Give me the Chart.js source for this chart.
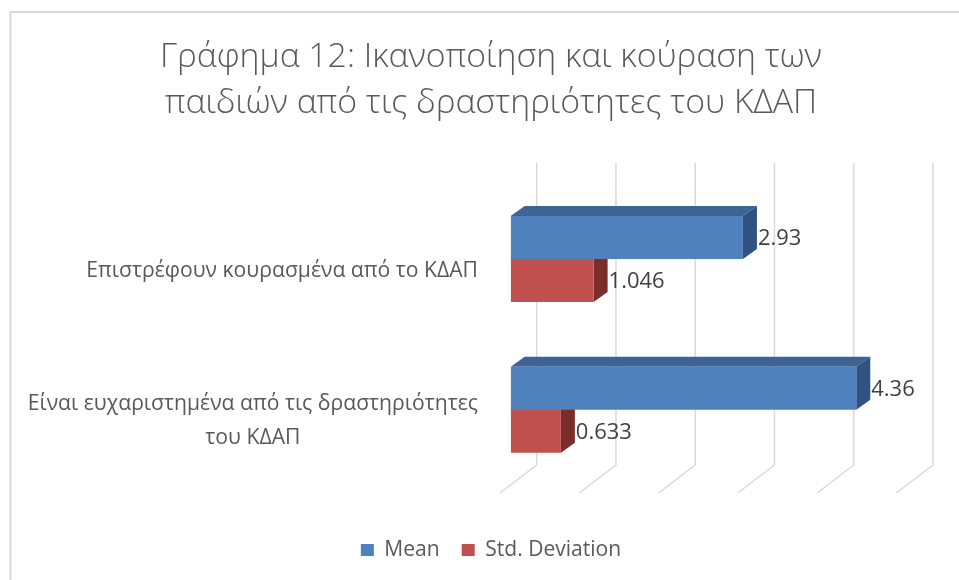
<!DOCTYPE html>
<html>
<head>
<meta charset="utf-8">
<script src="https://cdn.jsdelivr.net/npm/chart.js@4.4.0/dist/chart.umd.min.js"></script>
<style>
html,body{margin:0;padding:0;background:#fff;}
#wrap{width:959px;height:580px;position:relative;}
</style>
</head>
<body>
<div id="wrap"><canvas id="c" width="959" height="580"></canvas></div>
<script>
// ---- data ----
const titleLines = ['Γράφημα 12: Ικανοποίηση και κούραση των', 'παιδιών από τις δραστηριότητες του ΚΔΑΠ'];
const categories = [
  ['Επιστρέφουν κουρασμένα από το ΚΔΑΠ'],
  ['Είναι ευχαριστημένα από τις δραστηριότητες', 'του ΚΔΑΠ']
];
const seriesNames = ['Mean', 'Std. Deviation'];
const meanValues = [2.93, 4.36];
const stdValues = [1.046, 0.633];
const axisTicks = [0, 1, 2, 3, 4, 5];

// ---- styles ----
const FAM = '"Open Sans", "Noto Sans", "DejaVu Sans", sans-serif';
function fitSize(text, targetW, weight) {
  const c = document.createElement('canvas').getContext('2d');
  c.font = (weight || 'normal') + ' 100px ' + FAM;
  return 100 * targetW / c.measureText(text).width;
}
const TITLE_WEIGHT = '300';
const titleSize = fitSize(titleLines[0], 662, TITLE_WEIGHT);
const catSize = fitSize(categories[0][0], 392);
const valSize = fitSize('1.046', 56);
const legSize = fitSize(seriesNames[1], 136);

const COLORS = {
  mean: {front: '#4f81bd', top: '#3c6494', side: '#2f5280'},
  std:  {front: '#c0504d', top: '#8f3a37', side: '#7a2d2b'}
};
const faceColors = [COLORS.mean, COLORS.std];
const DEPTH = {dx: 14, dy: 10};
const WALL = {dx: 26, top: -20.7, bottom: -20, floorDx: -36.7, floorDy: 28};
const LEG_PAD = 22;
const padBottom = 20 - legSize / 2;
const legendTop = 580 - padBottom - (legSize + LEG_PAD + 10);
const plotBottom = 485;

const threeD = {
  id: 'threeD',
  beforeDraw(chart) {
    const {ctx} = chart;
    ctx.save();
    ctx.fillStyle = '#ffffff';
    ctx.fillRect(0, 0, chart.width, chart.height);
    ctx.strokeStyle = '#d9d9d9';
    ctx.lineWidth = 2;
    ctx.strokeRect(10.5, 12, 1200, 1200);
    ctx.restore();
  },
  beforeDatasetsDraw(chart) {
    const {ctx, chartArea, scales: {x}} = chart;
    ctx.save();
    ctx.strokeStyle = '#d9d9d9';
    ctx.lineWidth = 1.5;
    const yT = chartArea.top + WALL.top, yB = chartArea.bottom + WALL.bottom;
    axisTicks.forEach(v => {
      const xb = x.getPixelForValue(v) + WALL.dx;
      ctx.beginPath();
      ctx.moveTo(xb, yT);
      ctx.lineTo(xb, yB);
      ctx.lineTo(xb + WALL.floorDx, yB + WALL.floorDy);
      ctx.stroke();
    });
    chart.data.datasets.forEach((ds, di) => {
      const meta = chart.getDatasetMeta(di);
      meta.data.forEach(bar => {
        const p = bar.getProps(['x', 'y', 'base', 'height'], true);
        const top = p.y - p.height / 2, bot = p.y + p.height / 2;
        ctx.fillStyle = faceColors[di].top;
        ctx.beginPath();
        ctx.moveTo(p.base, top);
        ctx.lineTo(p.base + DEPTH.dx, top - DEPTH.dy);
        ctx.lineTo(p.x + DEPTH.dx, top - DEPTH.dy);
        ctx.lineTo(p.x, top);
        ctx.closePath();
        ctx.fill();
        ctx.fillStyle = faceColors[di].side;
        ctx.beginPath();
        ctx.moveTo(p.x, top);
        ctx.lineTo(p.x + DEPTH.dx, top - DEPTH.dy);
        ctx.lineTo(p.x + DEPTH.dx, bot - DEPTH.dy);
        ctx.lineTo(p.x, bot);
        ctx.closePath();
        ctx.fill();
      });
    });
    ctx.restore();
  },
  afterDatasetsDraw(chart) {
    const {ctx, scales: {y}} = chart;
    ctx.save();
    // value labels
    ctx.fillStyle = '#404040';
    ctx.font = valSize.toFixed(2) + 'px ' + FAM;
    ctx.textAlign = 'left';
    ctx.textBaseline = 'middle';
    chart.data.datasets.forEach((ds, di) => {
      const meta = chart.getDatasetMeta(di);
      meta.data.forEach((bar, i) => {
        const p = bar.getProps(['x', 'y'], true);
        ctx.fillText(String(ds.data[i]), p.x + DEPTH.dx + 1, p.y + 1.5);
      });
    });
    // category labels (block right-aligned, lines centred)
    ctx.fillStyle = '#595959';
    ctx.font = catSize.toFixed(2) + 'px ' + FAM;
    ctx.textAlign = 'center';
    const right = 478, lh = 34;
    categories.forEach((lines, i) => {
      const w = Math.max(...lines.map(l => ctx.measureText(l).width));
      const cx = right - w / 2;
      const cy = y.getPixelForValue(i) + 11.5;
      const y0 = cy - (lines.length - 1) * lh / 2;
      lines.forEach((l, k) => ctx.fillText(l, cx, y0 + k * lh));
    });
    ctx.restore();
  }
};

new Chart(document.getElementById('c').getContext('2d'), {
  type: 'bar',
  data: {
    labels: categories,
    datasets: [
      {label: seriesNames[0], data: meanValues, backgroundColor: COLORS.mean.front, borderWidth: 0},
      {label: seriesNames[1], data: stdValues, backgroundColor: COLORS.std.front, borderWidth: 0}
    ]
  },
  options: {
    indexAxis: 'y',
    responsive: false,
    animation: false,
    layout: {padding: {left: 75, right: 52, top: 0, bottom: padBottom}},
    datasets: {bar: {categoryPercentage: 0.571, barPercentage: 1}},
    scales: {
      x: {min: 0, max: 5, display: true, ticks: {display: false}, grid: {display: false}, border: {display: false},
          afterFit: s => { s.height = legendTop - plotBottom; }},
      y: {display: true, ticks: {display: false}, grid: {display: false}, border: {display: false},
          afterFit: s => { s.width = 435.7; }}
    },
    plugins: {
      title: {display: true, text: titleLines, color: '#595959',
              font: {family: FAM, size: titleSize, weight: TITLE_WEIGHT, lineHeight: '46px'},
              padding: {top: 34, bottom: 57.7}},
      legend: {position: 'bottom',
               labels: {boxWidth: 13, boxHeight: 12, padding: LEG_PAD, color: '#595959',
                        font: {family: FAM, size: legSize}}},
      tooltip: {enabled: false}
    }
  },
  plugins: [threeD]
});
</script>
</body>
</html>
